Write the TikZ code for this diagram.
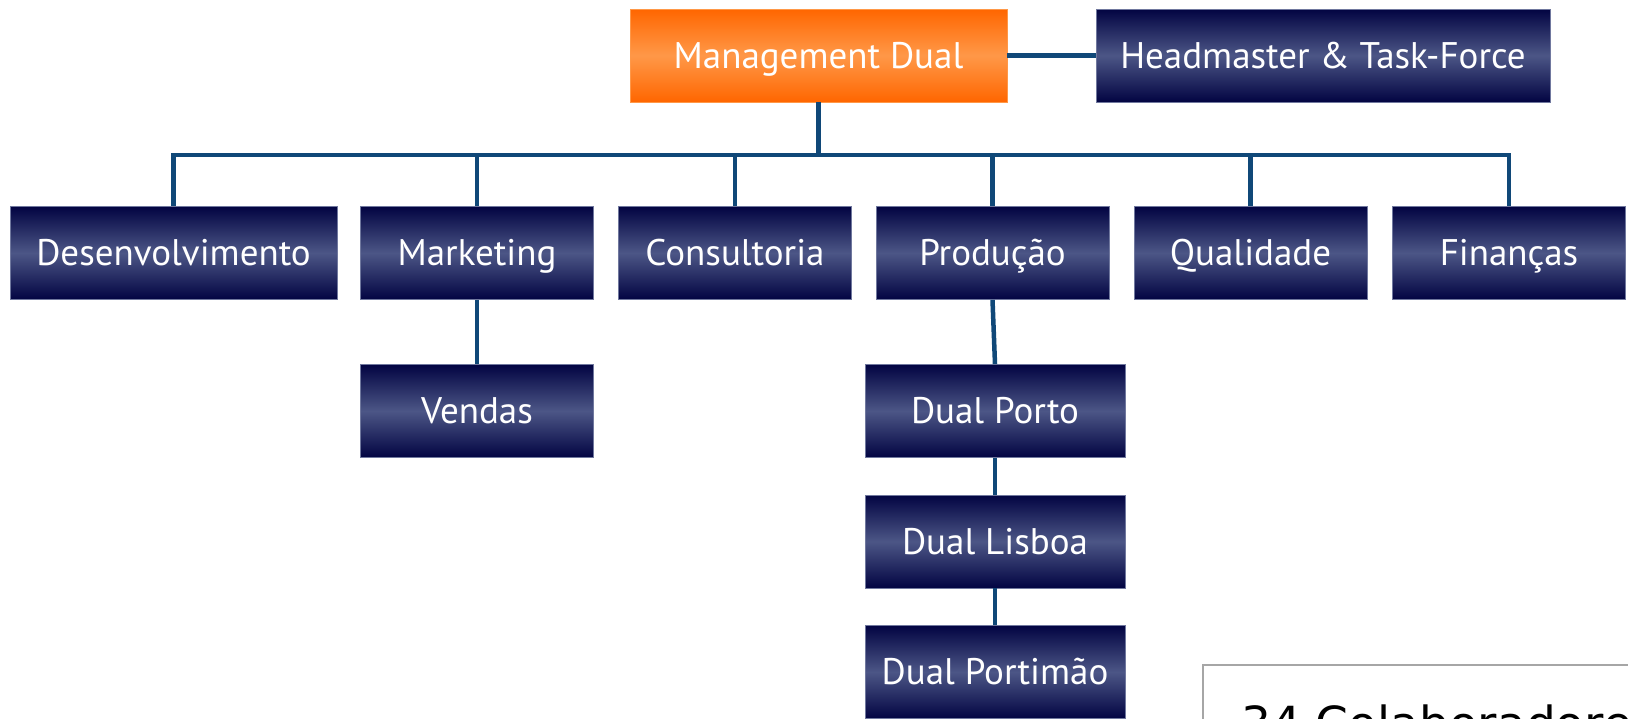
\documentclass[tikz,border=0pt]{standalone}
\usepackage{fontspec}
\setmainfont{PT Sans}
\newfontfamily\notefont{DejaVu Sans}
\definecolor{navydark}{RGB}{2,4,66}
\definecolor{navylight}{RGB}{76,86,134}
\definecolor{orangedark}{RGB}{255,102,0}
\definecolor{orangelight}{RGB}{255,152,72}
\definecolor{linkblue}{RGB}{16,72,120}
\tikzset{
  unit/.style={rectangle, minimum width=233, minimum height=93, inner sep=0,
    text=white, font=\fontsize{37}{40}\selectfont, text height=25, text depth=0,
    top color=navydark, bottom color=navydark, middle color=navylight,
    draw=navylight!80, line width=0.8},
  head/.style={unit, top color=orangedark, bottom color=orangedark,
    middle color=orangelight, draw=orangelight},
  link/.style={draw=linkblue, line width=4.5},
}

\begin{document}
\begin{tikzpicture}[x=1pt,y=-1pt]
  \useasboundingbox (0,0) rectangle (1628,718);
  \clip (0,0) rectangle (1628,718);
  \node[head, minimum width=377] (mgmt) at (818.5,55.5) {Management Dual};
  \node[unit, minimum width=454] (task) at (1323,55.5) {Headmaster \& Task-Force};
  \node[unit, minimum width=327] (dev) at (173.5,253) {Desenvolvimento};
  \node[unit] (mkt) at (477,253) {Marketing};
  \node[unit] (cons) at (735,253) {Consultoria};
  \node[unit] (prod) at (992.5,253) {Produção};
  \node[unit] (qual) at (1250.5,253) {Qualidade};
  \node[unit] (fin) at (1509,253) {Finanças};
  \node[unit] (vendas) at (477,411) {Vendas};
  \node[unit, minimum width=260] (porto) at (995,411) {Dual Porto};
  \node[unit, minimum width=260] (lisboa) at (995,541.5) {Dual Lisboa};
  \node[unit, minimum width=260] (portimao) at (995,672) {Dual Portimão};
  \coordinate (bar) at (818.5,155);
  \draw[link] (mgmt) -- (task);
  \draw[link] (mgmt.south) -- (bar);
  \foreach \n in {dev,mkt,cons,prod,qual,fin}
    \draw[link] (bar) -| (\n.north);
  \draw[link] (mkt) -- (vendas);
  \draw[link] (prod.south) -- (porto.north);
  \draw[link] (porto) -- (lisboa);
  \draw[link] (lisboa) -- (portimao);
  \draw[gray!70, line width=1.2] (1203,665) rectangle (1700,800);
  \node[anchor=north west, inner sep=0, font=\notefont\fontsize{47}{52}\selectfont] (staff) at (1241,705) {34 Colaboradores};
\end{tikzpicture}
\end{document}
